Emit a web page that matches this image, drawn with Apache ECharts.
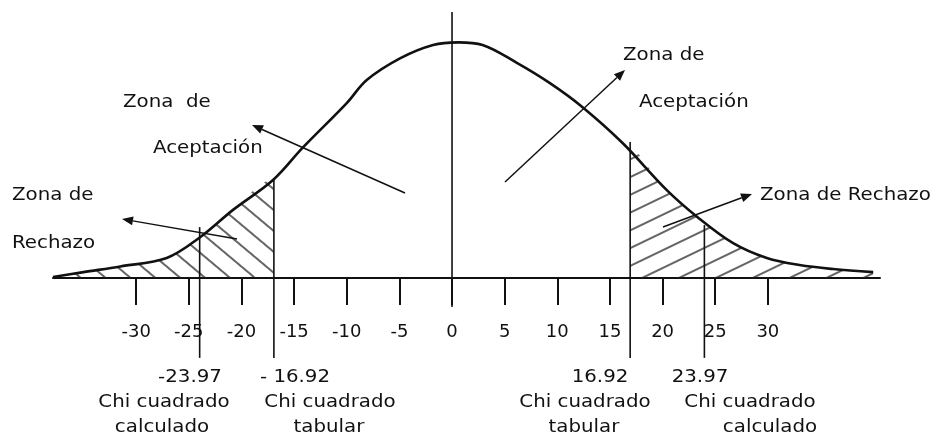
<!DOCTYPE html>
<html>
<head>
<meta charset="utf-8">
<script src="https://cdn.jsdelivr.net/npm/echarts@6/dist/echarts.min.js"></script>
<style>
  html, body { margin: 0; padding: 0; background: #fff; }
  #chart { width: 939px; height: 437px; }
</style>
</head>
<body>
<div id="chart"></div>
<script>
// curva (altura relativa, pico = 100)
var curveX = [-37.9, -35.0, -31.5, -27.1, -23.9, -20.8, -17.0, -14.2, -10.0, -8.1, -4.9, -1.8, 0.6,
  2.9, 6.2, 9.3, 12.4, 16.2, 20.4, 23.3, 26.7, 29.9, 33.0, 36.2, 40.0];
var curveY = [0.4, 2.5, 4.9, 8.5, 17.4, 28.9, 41.6, 55.2, 74.2, 84.0, 93.3, 98.9, 100,
  98.9, 91.2, 82.7, 72.5, 57.3, 37.3, 25.9, 14.8, 8.5, 5.5, 3.8, 2.5];

var tickValues = [-30, -25, -20, -15, -10, -5, 0, 5, 10, 15, 20, 25, 30];

// valores criticos y hasta donde llega cada linea vertical
var critValues = [-23.97, -16.92, 16.92, 23.97];
var critTops = [21.6, 41.6, 57.7, 22.5];
var critBottom = -33.9;
var critLabels = ['-23.97', '- 16.92', '16.92', '23.97'];
var critNames = [['Chi cuadrado', 'calculado'], ['Chi cuadrado', 'tabular'],
  ['Chi cuadrado', 'tabular'], ['Chi cuadrado', 'calculado']];

var centerLine = [-12.3, 112.9];

var chart = echarts.init(document.getElementById('chart'));

var curve = curveX.map(function (x, i) { return [x, curveY[i]]; });
var leftTail = curve.filter(function (p) { return p[0] < critValues[1]; });
leftTail.push([critValues[1], critTops[1]]);
var rightTail = [[critValues[2], critTops[2]]].concat(curve.filter(function (p) { return p[0] > critValues[2]; }));

function hatch(rot) {
  return {
    symbol: 'rect',
    symbolSize: 1,
    color: '#222',
    dashArrayX: [1, 0],
    dashArrayY: [1.1, 14],
    rotation: rot
  };
}

function tailSeries(data, rot) {
  return {
    type: 'line',
    data: data,
    smooth: 0.35,
    symbol: 'none',
    silent: true,
    z: 1,
    lineStyle: { width: 0, decal: hatch(rot) },
    itemStyle: { decal: hatch(rot) },
    areaStyle: { color: 'rgba(0,0,0,0)' }
  };
}

function vline(data) {
  return {
    type: 'line',
    data: data,
    symbol: 'none',
    clip: false,
    z: 2,
    lineStyle: { color: '#111', width: 1.6 }
  };
}

var series = [
  tailSeries(leftTail, Math.PI / 4.5),
  tailSeries(rightTail, -Math.PI / 7),
  {
    type: 'line',
    data: curve,
    smooth: 0.35,
    symbol: 'none',
    z: 3,
    lineStyle: { color: '#111', width: 2.6 }
  },
  vline([[0, centerLine[0]], [0, centerLine[1]]])
];
critValues.forEach(function (v, i) {
  series.push(vline([[v, critBottom], [v, critTops[i]]]));
});

var FONT = '18px "DejaVu Sans"';
function txt(text, x, y, align) {
  return {
    type: 'text', x: x, y: y, scaleX: 1.1, z: 10,
    style: { text: text, font: FONT, fill: '#111', align: align, verticalAlign: 'middle' }
  };
}
function arrow(x1, y1, x2, y2) {
  var a = Math.atan2(y2 - y1, x2 - x1), L = 11, W = 4.5;
  var bx = x2 - L * Math.cos(a), by = y2 - L * Math.sin(a);
  var nx = -Math.sin(a) * W, ny = Math.cos(a) * W;
  return [
    { type: 'line', z: 10, shape: { x1: x1, y1: y1, x2: bx, y2: by }, style: { stroke: '#111', lineWidth: 1.5 } },
    { type: 'polygon', z: 10, shape: { points: [[x2, y2], [bx + nx, by + ny], [bx - nx, by - ny]] }, style: { fill: '#111' } }
  ];
}

var graphics = [
  txt('Zona  de', 123, 102, 'left'),
  txt('Aceptación', 153, 148, 'left'),
  txt('Zona de', 12, 195, 'left'),
  txt('Rechazo', 12, 243, 'left'),
  txt('Zona de', 623, 55, 'left'),
  txt('Aceptación', 639, 102, 'left'),
  txt('Zona de Rechazo', 760, 195, 'left')
];
var critLabelX = [190, 295, 600, 700];
var nameX = [[164, 162], [330, 329], [585, 584], [750, 770]];
critLabels.forEach(function (s, i) {
  graphics.push(txt(s, critLabelX[i], 377, 'center'));
  graphics.push(txt(critNames[i][0], nameX[i][0], 402, 'center'));
  graphics.push(txt(critNames[i][1], nameX[i][1], 427, 'center'));
});
graphics = graphics
  .concat(arrow(405, 193, 252, 125))
  .concat(arrow(237, 239, 122, 219))
  .concat(arrow(505, 182, 625, 70))
  .concat(arrow(663, 227, 752, 194));

chart.setOption({
  animation: false,
  grid: { left: 53, right: 59, top: 7, bottom: 159 },
  xAxis: {
    type: 'value',
    min: -37.9,
    max: 40.65,
    splitLine: { show: false },
    axisLine: { onZero: false, lineStyle: { color: '#111', width: 2 } },
    axisTick: { customValues: tickValues, length: 27, lineStyle: { color: '#111', width: 2 } },
    axisLabel: {
      customValues: tickValues, margin: 45, color: '#111',
      fontFamily: 'DejaVu Sans', fontSize: 18
    }
  },
  yAxis: { type: 'value', min: 0, max: 115, show: false },
  series: series,
  graphic: graphics
});
</script>
</body>
</html>
